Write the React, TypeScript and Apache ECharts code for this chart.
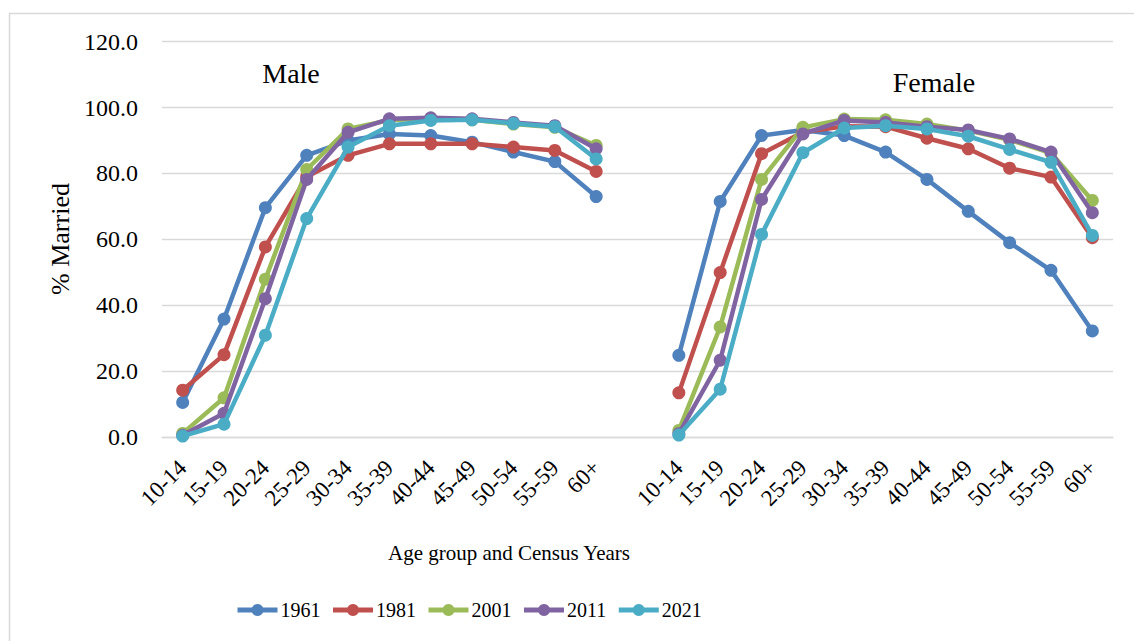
import React, { useEffect, useRef } from "react";
import * as echarts from "echarts";

const ageGroups = ["10-14", "15-19", "20-24", "25-29", "30-34", "35-39", "40-44", "45-49", "50-54", "55-59", "60+"];
const years = ["1961", "1981", "2001", "2011", "2021"];
const colors = ["#4F81BD", "#C0504D", "#9BBB59", "#8064A2", "#4BACC6"];

const male1961 = [10.5, 35.8, 69.6, 85.5, 90.0, 92.0, 91.5, 89.5, 86.5, 83.6, 73.0];
const male1981 = [14.2, 25.0, 57.7, 79.0, 85.5, 89.0, 89.0, 89.0, 88.0, 87.0, 80.6];
const male2001 = [1.1, 11.9, 47.9, 81.2, 93.5, 96.2, 96.6, 96.3, 95.0, 94.0, 88.5];
const male2011 = [0.5, 7.2, 42.0, 78.2, 92.5, 96.6, 96.9, 96.6, 95.5, 94.5, 87.5];
const male2021 = [0.3, 3.9, 30.9, 66.3, 88.0, 94.5, 96.1, 96.3, 95.2, 94.2, 84.4];

const female1961 = [24.8, 71.5, 91.5, 93.2, 91.5, 86.5, 78.2, 68.5, 59.0, 50.6, 32.2];
const female1981 = [13.4, 49.9, 86.0, 92.5, 94.3, 94.2, 90.7, 87.5, 81.6, 78.9, 60.5];
const female2001 = [2.0, 33.4, 78.2, 94.0, 96.5, 96.3, 95.0, 93.0, 90.2, 86.2, 71.8];
const female2011 = [1.0, 23.3, 72.1, 92.0, 96.1, 95.5, 94.2, 93.2, 90.5, 86.5, 68.1];
const female2021 = [0.6, 14.5, 61.5, 86.3, 93.8, 94.5, 93.5, 91.3, 87.3, 83.4, 61.2];

const yTicks = [0, 20, 40, 60, 80, 100, 120];

const maleSeries = [male1961, male1981, male2001, male2011, male2021];
const femaleSeries = [female1961, female1981, female2001, female2011, female2021];

const FONT = "'Liberation Serif', serif";

export default function App() {
  const ref = useRef<HTMLDivElement>(null);
  useEffect(() => {
    if (!ref.current) return;
    const chart = echarts.init(ref.current, null, { renderer: "svg" });
    const categories = [...ageGroups, "", ...ageGroups];
    chart.setOption({
      animation: false,
      textStyle: { fontFamily: FONT },
      grid: { left: 162, right: 21, top: 41.7, bottom: 204, containLabel: false },
      xAxis: {
        type: "category",
        data: categories,
        boundaryGap: true,
        axisLine: { show: true, lineStyle: { color: "#d9d9d9", width: 1.3 } },
        axisTick: { show: false },
        axisLabel: {
          interval: 0,
          rotate: 45,
          margin: 27,
          fontSize: 23,
          color: "#000",
          fontFamily: FONT,
        },
        splitLine: { show: false },
      },
      yAxis: {
        type: "value",
        min: yTicks[0],
        max: yTicks[yTicks.length - 1],
        interval: 20,
        axisLine: { show: false },
        axisTick: { show: false },
        axisLabel: {
          margin: 24,
          fontSize: 24,
          color: "#000",
          fontFamily: FONT,
          formatter: (v: number) => v.toFixed(1),
        },
        splitLine: { show: true, lineStyle: { color: "#d9d9d9", width: 1.3 } },
      },
      legend: {
        left: 235,
        top: 600,
        padding: 0,
        itemWidth: 40,
        itemHeight: 15,
        itemGap: 10,
        lineStyle: { width: 5 },
        textStyle: { fontSize: 20, color: "#000", fontFamily: FONT, padding: [0, 0, 0, -2] },
        data: years,
      },
      graphic: [
        {
          type: "rect",
          shape: { x: 9.5, y: 13.5, width: 1200, height: 700 },
          style: { fill: "none", stroke: "#d9d9d9", lineWidth: 1.5 },
          silent: true,
        },
        {
          type: "text",
          x: 291,
          y: 73,
          style: { text: "Male", fontSize: 28, fontFamily: FONT, fill: "#000", align: "center", verticalAlign: "middle" },
        },
        {
          type: "text",
          x: 934,
          y: 82,
          style: { text: "Female", fontSize: 28, fontFamily: FONT, fill: "#000", align: "center", verticalAlign: "middle" },
        },
        {
          type: "text",
          x: 60,
          y: 239,
          rotation: Math.PI / 2,
          style: { text: "% Married", fontSize: 26, fontFamily: FONT, fill: "#000", align: "center", verticalAlign: "middle" },
        },
        {
          type: "text",
          x: 509,
          y: 553,
          style: { text: "Age group and Census Years", fontSize: 21, fontFamily: FONT, fill: "#000", align: "center", verticalAlign: "middle" },
        },
      ],
      series: years.map((y, i) => ({
        name: y,
        type: "line",
        data: [...maleSeries[i], null, ...femaleSeries[i]],
        connectNulls: false,
        symbol: "circle",
        symbolSize: 13,
        showSymbol: true,
        color: colors[i],
        lineStyle: { width: 4.5, color: colors[i] },
        itemStyle: { color: colors[i] },
        z: 2 + i,
      })),
    });
    return () => chart.dispose();
  }, []);
  return <div ref={ref} style={{ position: "fixed", left: 0, top: 0, width: 1134, height: 641, background: "#fff" }} />;
}
